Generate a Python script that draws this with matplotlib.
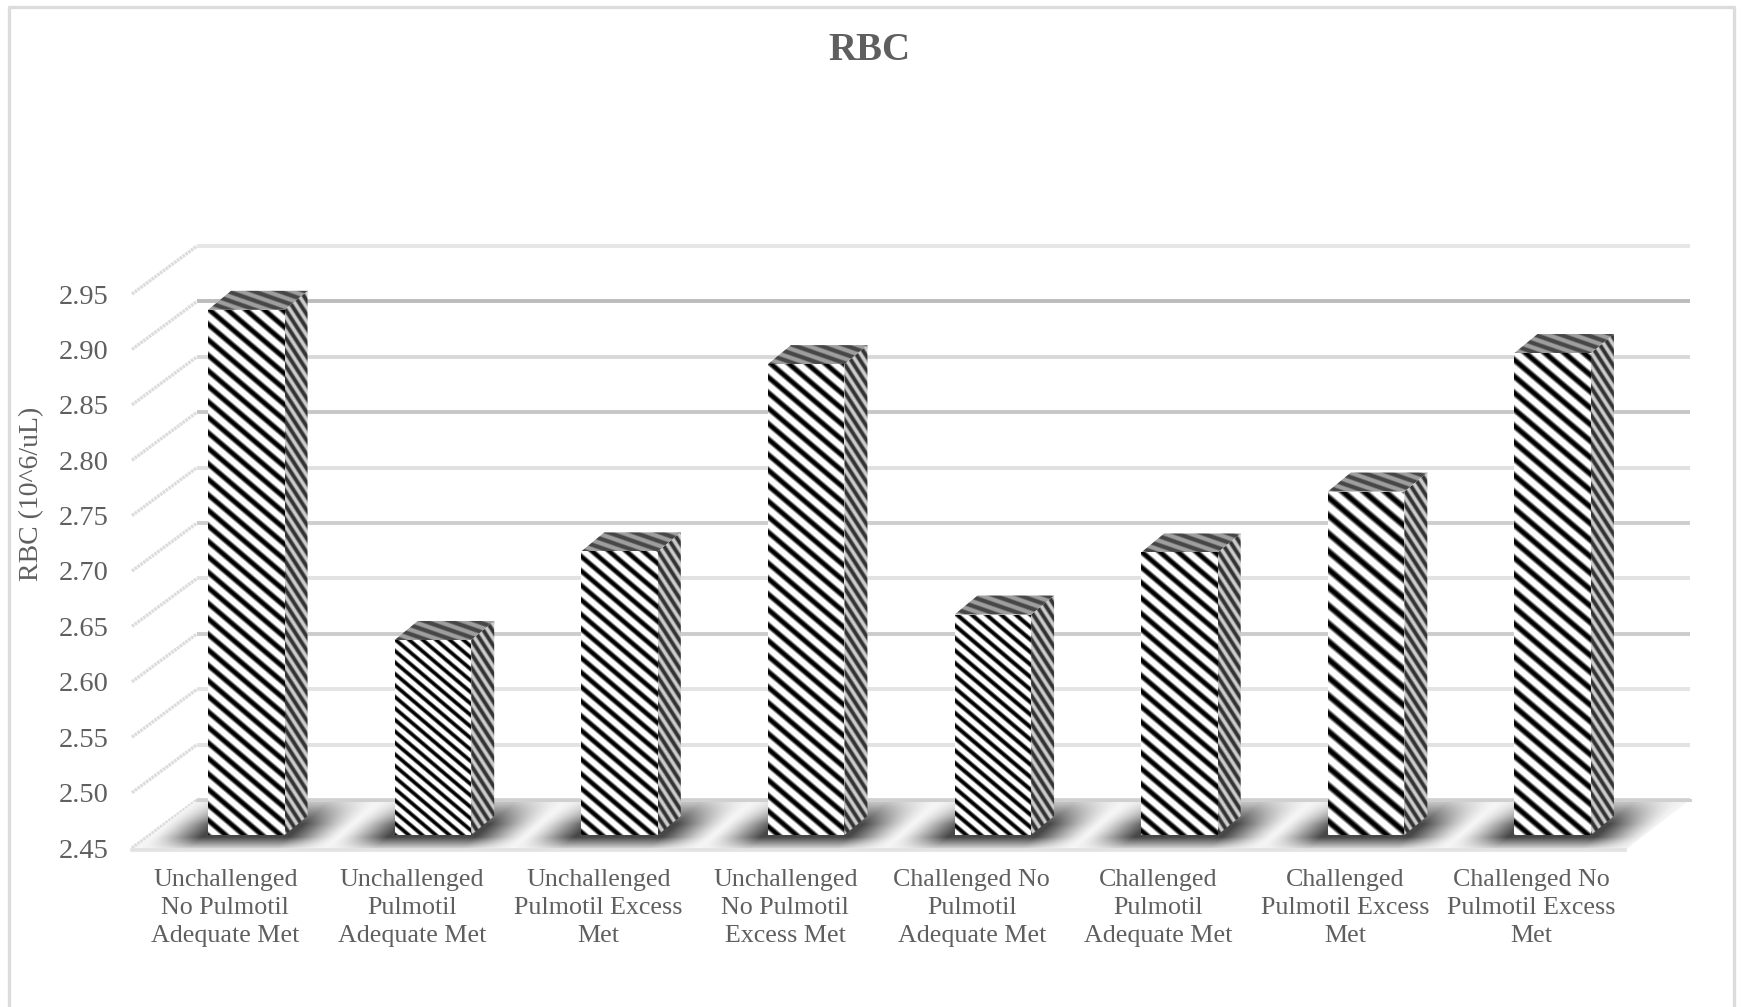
import numpy as np
import matplotlib
matplotlib.use('Agg')
import matplotlib.pyplot as plt
from matplotlib.patches import Polygon
from matplotlib.transforms import Affine2D

plt.rcParams['font.family'] = ['Liberation Serif', 'DejaVu Serif']

W, H = 1741, 1007
TEXT = '#5f5f5f'

# Data
categories = [
    'Unchallenged\nNo Pulmotil\nAdequate Met',
    'Unchallenged\nPulmotil\nAdequate Met',
    'Unchallenged\nPulmotil Excess\nMet',
    'Unchallenged\nNo Pulmotil\nExcess Met',
    'Challenged No\nPulmotil\nAdequate Met',
    'Challenged\nPulmotil\nAdequate Met',
    'Challenged\nPulmotil Excess\nMet',
    'Challenged No\nPulmotil Excess\nMet',
]
rbc = [2.924, 2.626, 2.706, 2.875, 2.649, 2.705, 2.760, 2.885]
y_ticks = [2.45, 2.50, 2.55, 2.60, 2.65, 2.70, 2.75, 2.80, 2.85, 2.90, 2.95]

# Styles: wall line greys per tick, stripe spacing per bar
line_greys = ['#d6d6d6', '#e2e2e2', '#e4e4e4', '#cccccc', '#e2e2e2', '#cecece',
              '#e0e0e0', '#c6c6c6', '#d8d8d8', '#bcbcbc', '#e6e6e6']
front_period = [15.5, 11.5, 14.5, 15.5, 12.5, 15.5, 18.0, 16.5]

fig = plt.figure(figsize=(W / 100, H / 100), dpi=100, facecolor='white')

# Front plane of the 3D box, in figure pixels
L, R, TOP, BOT = 132, 1625, 294, 848
ax = fig.add_axes([L / W, 1 - BOT / H, (R - L) / W, (BOT - TOP) / H], zorder=1)
ax.set_xlim(-0.5, len(categories) - 0.5)
ax.set_ylim(y_ticks[0], y_ticks[-1])
ax.patch.set_alpha(0)
for s in ax.spines.values():
    s.set_visible(False)

# Overlay in top-down pixels for the floor and bar faces
px = fig.add_axes([0, 0, 1, 1], zorder=2)
px.set_xlim(0, W)
px.set_ylim(H, 0)
px.axis('off')

# Depth of the box
DX, DY = 65, 48
back = ax.transData + Affine2D().translate(DX, DY)


def to_px(x, y, dx=0, dy=0):
    """Data coordinates to overlay pixels, shifted by dx right and dy up."""
    p = ax.transData.transform((x, y))
    return p[0] + dx, H - p[1] - dy


def clipped_image(verts, shade, zorder=3):
    """Fill a polygon given in overlay pixels with shade(x, y) as grey values."""
    verts = np.array(verts)
    x0, x1 = int(verts[:, 0].min()) - 2, int(verts[:, 0].max()) + 3
    y0, y1 = int(verts[:, 1].min()) - 2, int(verts[:, 1].max()) + 3
    xx, yy = np.meshgrid(np.arange(x0, x1) + 0.5, np.arange(y0, y1) + 0.5)
    im = px.imshow(shade(xx, yy), cmap='gray', vmin=0, vmax=1, extent=(x0, x1, y1, y0),
                   interpolation='bilinear', aspect='auto', zorder=zorder)
    im.set_clip_path(Polygon(verts, closed=True, transform=px.transData))


def stripes(slope, period, lo, hi, thr=0.3, soft=0.45, phase=0.0):
    def shade(x, y):
        v = 0.5 + 0.5 * np.cos(2 * np.pi * ((y - slope * x) / period + phase))
        return lo + (hi - lo) * np.clip((v - thr) / soft, 0, 1)
    return shade


# Walls: one diagonal and one horizontal line per tick
for tick, grey in zip(y_ticks, line_greys):
    ax.plot(ax.get_xlim(), [tick, tick], color=grey, lw=2.8, transform=back, clip_on=False,
            solid_capstyle='butt')
    x_l, y_f = to_px(-0.5, tick)
    px.plot([x_l, x_l + DX], [y_f, y_f - DY], color='#dcdcdc', lw=2.4, ls=(0, (0.8, 0.25)),
            zorder=2)

# Floor with soft diagonal shadows under the bars
fl, fy = to_px(-0.5, y_ticks[0])
fr, _ = to_px(len(categories) - 0.5, y_ticks[0])
cat_w = (fr - fl) / len(categories)


def floor_shade(x, y):
    u = (x + 1.13 * (y - 833) - 343) / cat_w
    dark = np.clip(np.abs(np.sin(np.pi * u)) * 1.35, 0, 1) ** 1.4
    dark[(u < -1) | (u > 7)] = 0
    depth = np.clip((y - 794) / 30, 0.3, 1) * np.clip((fy + 3 - y) / 14, 0, 1)
    return 0.96 - 0.68 * dark * depth


floor = [(fl, fy + 2), (fr, fy + 2), (fr + DX, fy - DY), (fl + DX, fy - DY)]
clipped_image(floor, floor_shade, zorder=2)
px.plot([fl, fr], [fy + 2, fy + 2], color='#e2e2e2', lw=2.6, zorder=2.5)
px.plot([fl + DX, fr + DX], [fy - DY, fy - DY], color='#d0d0d0', lw=2.2, zorder=2.5)

# Bars sit part way into the box, each with front, side and top faces
BAR_W = 0.41
OFF_X, OFF_Y = 21, 13
SIDE_X, SIDE_Y = 23, 19

for i, (val, period) in enumerate(zip(rbc, front_period)):
    x0, y_top = to_px(i - BAR_W / 2, val, OFF_X, OFF_Y)
    x1, y_base = to_px(i + BAR_W / 2, y_ticks[0], OFF_X, OFF_Y)
    front = [(x0, y_top), (x1, y_top), (x1, y_base), (x0, y_base)]
    side = [(x1, y_top), (x1 + SIDE_X, y_top - SIDE_Y), (x1 + SIDE_X, y_base - SIDE_Y), (x1, y_base)]
    top = [(x0, y_top), (x0 + SIDE_X, y_top - SIDE_Y), (x1 + SIDE_X, y_top - SIDE_Y), (x1, y_top)]
    clipped_image(side, stripes(1.55, 14.0, 0.2, 0.8, thr=0.15, soft=0.75), zorder=3)
    clipped_image(top, stripes(0.35, 9.0, 0.28, 0.62, thr=0.2, soft=0.6), zorder=3)
    clipped_image(front, stripes(0.85, period, 0.0, 1.0, thr=0.08, soft=0.62, phase=0.1 * i), zorder=4)

# Text
ax.set_xticks(range(len(categories)))
ax.set_xticklabels(categories, fontsize=18.7, color=TEXT, linespacing=1.36)
ax.set_yticks(y_ticks)
ax.set_yticklabels([f'{t:.2f}' for t in y_ticks], fontsize=20.5, color=TEXT)
ax.tick_params(axis='both', length=0)
ax.tick_params(axis='x', pad=15)
ax.tick_params(axis='y', pad=17)

fig.text(32 / W, 1 - 494 / H, 'RBC (10^6/uL)', rotation=90, ha='center', va='center',
         fontsize=20, color=TEXT)
fig.text(869 / W, 1 - 50 / H, 'RBC', ha='center', va='center', fontsize=28,
         fontweight='bold', color=TEXT)

# Chart frame, open along the bottom edge
px.plot([9, 9, 1734, 1734], [H, 7, 7, H], color='#dcdcdc', lw=2.4, zorder=1, clip_on=False)
px.set_xlim(0, W)
px.set_ylim(H, 0)

plt.savefig('out.png', dpi=100)
plt.close()
